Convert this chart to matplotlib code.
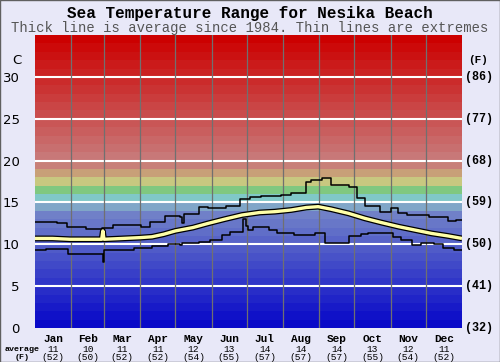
import numpy as np
import matplotlib
matplotlib.use("Agg")
import matplotlib.pyplot as plt
from matplotlib.patches import Rectangle
import matplotlib.transforms as mtransforms

# -----------------------------
# Data
# -----------------------------
months = ["Jan", "Feb", "Mar", "Apr", "May", "Jun",
          "Jul", "Aug", "Sep", "Oct", "Nov", "Dec"]
month_days = [31, 28, 31, 30, 31, 30, 31, 31, 30, 31, 30, 31]
avg_c = [11, 10, 11, 11, 12, 13, 14, 14, 14, 13, 12, 11]
avg_f = [52, 50, 52, 52, 54, 55, 57, 57, 57, 55, 54, 52]

c_ticks = [0, 5, 10, 15, 20, 25, 30]
f_labels = ["(32)", "(41)", "(50)", "(59)", "(68)", "(77)", "(86)"]

# upper extreme (day of year where a step starts, value in C)
max_days = [0, 19, 27, 44, 57, 67, 91, 98, 111, 124, 126, 127, 140, 148, 163,
            175, 184, 193, 210, 219, 232, 236, 245, 253, 268, 275, 282, 295,
            304, 310, 318, 337, 353, 360, 365]
max_vals = [12.7, 12.5, 12.1, 11.8, 12.0, 12.3, 12.1, 12.7, 13.4, 13.3, 12.6,
            13.6, 14.5, 14.3, 14.6, 15.4, 15.6, 15.8, 15.9, 16.1, 17.5, 17.7,
            17.9, 17.1, 16.9, 15.5, 14.6, 13.9, 14.3, 13.7, 13.5, 13.3, 12.8,
            12.9, 12.9]

# lower extreme
min_days = [0, 9, 28, 42, 58, 59, 85, 100, 114, 124, 126, 140, 150, 160, 167,
            178, 180, 182, 186, 200, 207, 221, 239, 248, 268, 279, 285, 306,
            313, 322, 330, 341, 349, 358, 365]
min_vals = [9.3, 9.4, 8.8, 8.9, 7.9, 9.3, 9.5, 9.8, 10.0, 9.9, 10.1, 10.3,
            10.5, 11.1, 11.5, 13.0, 12.2, 11.7, 12.1, 11.7, 11.3, 11.1, 11.3,
            10.2, 11.0, 11.2, 11.3, 10.9, 10.5, 9.9, 10.1, 10.0, 9.6, 9.3, 9.3]

# long-term average
avg_days = [0, 15, 30, 45, 57, 58, 59, 75, 90, 100, 110, 120, 135, 148, 162,
            177, 192, 205, 219, 232, 242, 253, 268, 282, 296, 311, 325, 339,
            353, 365]
avg_vals = [10.7, 10.7, 10.6, 10.6, 10.6, 11.6, 10.6, 10.7, 10.8, 10.9, 11.2,
            11.6, 12.0, 12.5, 13.0, 13.5, 13.8, 13.9, 14.1, 14.4, 14.5, 14.2,
            13.7, 13.1, 12.6, 12.1, 11.7, 11.3, 11.0, 10.7]

# -----------------------------
# Background band colours (one per degree C)
# -----------------------------
def band_color(t):
    if t < 14:
        f = t / 13.0
        return ((8 + f * 104) / 255, (8 + f * 120) / 255, 200 / 255)
    special = {14: (128, 166, 200), 15: (128, 200, 200), 16: (128, 200, 128),
               17: (200, 200, 128), 18: (200, 160, 120), 19: (200, 128, 120)}
    if t in special:
        r, g, b = special[t]
        return (r / 255, g / 255, b / 255)
    f = (t - 20) / 14.0
    return ((200 + f * 4) / 255, (120 - f * 120) / 255, (120 - f * 120) / 255)

bg = "#e8e8f8"
fig = plt.figure(figsize=(5, 3.62), dpi=100, facecolor=bg)
ax = fig.add_axes([0.07, 0.094, 0.854, 0.809])

for t in range(35):
    ax.axhspan(t, t + 1, color=band_color(t), lw=0, zorder=0)

for c in c_ticks[1:]:
    ax.axhline(c, color="white", lw=1.5, zorder=1)

bounds = np.cumsum(month_days)
for b in bounds[:-1]:
    ax.axvline(b, color="#707070", lw=0.9, zorder=1)

ax.plot(max_days, max_vals, drawstyle="steps-post", color="black", lw=1.1, zorder=3)
ax.plot(min_days, min_vals, drawstyle="steps-post", color="black", lw=1.1, zorder=3)
ax.plot(avg_days, avg_vals, color="black", lw=4.2, zorder=4, solid_capstyle="butt")
ax.plot(avg_days, avg_vals, color="#ffffa8", lw=2.4, zorder=5, solid_capstyle="butt")

ax.set_xlim(0, 365)
ax.set_ylim(0, 35)
ax.set_xticks([])
ax.set_yticks(c_ticks)
ax.set_yticklabels([str(c) for c in c_ticks], fontsize=9.5, family="DejaVu Sans")
ax.tick_params(axis="y", length=0, pad=11)
for s in ax.spines.values():
    s.set_visible(False)

mono = "Liberation Mono"
trans_r = mtransforms.blended_transform_factory(ax.transAxes, ax.transData)
for c, lab in zip(c_ticks, f_labels):
    ax.text(1.008, c, lab, transform=trans_r, ha="left", va="center",
            fontsize=8.5, family=mono, fontweight="bold")
ax.text(1.015, 32, "(F)", transform=trans_r, ha="left", va="center",
        fontsize=8, family=mono, fontweight="bold")
ax.text(-0.042, 32, "C", transform=trans_r, ha="center", va="center",
        fontsize=9.5, family="DejaVu Sans")

# month labels with averages
trans_b = mtransforms.blended_transform_factory(ax.transData, ax.transAxes)
starts = np.concatenate([[0], bounds[:-1]])
for m, s, d, c, f in zip(months, starts, month_days, avg_c, avg_f):
    x = s + d / 2
    ax.text(x, -0.039, m, transform=trans_b, ha="center", va="center",
            fontsize=8, family=mono, fontweight="bold")
    ax.text(x, -0.073, str(c), transform=trans_b, ha="center", va="center",
            fontsize=6.8, family=mono)
    ax.text(x, -0.1, "(%d)" % f, transform=trans_b, ha="center", va="center",
            fontsize=6.8, family=mono)

fig.text(0.044, 0.034, "average", ha="center", va="center", fontsize=6,
         family=mono, fontweight="bold")
fig.text(0.044, 0.012, "(F)", ha="center", va="center", fontsize=6, family=mono,
         fontweight="bold")

fig.text(0.5, 0.963, "Sea Temperature Range for Nesika Beach", ha="center",
         va="center", fontsize=11.5, family=mono, fontweight="bold")
fig.text(0.5, 0.923, "Thick line is average since 1984. Thin lines are extremes",
         ha="center", va="center", fontsize=10, family=mono, color="#555555")

fig.patches.append(Rectangle((0, 0), 1, 1, transform=fig.transFigure, fill=False,
                             edgecolor="#606060", lw=1.0))

fig.savefig("out.png", dpi=100, facecolor=bg)
